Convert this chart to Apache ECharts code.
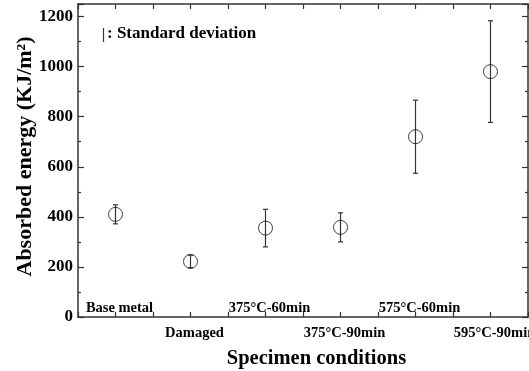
<!DOCTYPE html>
<html>
<head>
<meta charset="utf-8">
<script src="https://cdn.jsdelivr.net/npm/echarts@6/dist/echarts.min.js"></script>
<style>
    html, body { margin: 0; padding: 0; background: #fff; }
    #chart { width: 529px; height: 371px; }
</style>
</head>
<body>
<div id="chart"></div>
<script>
// specimen conditions, placed on odd x positions
const conditions = ['Base metal', 'Damaged', '375°C-60min', '375°C-90min', '575°C-60min', '595°C-90min'];
const xPos = [1, 3, 5, 7, 9, 11];
// absorbed energy (KJ/m2) and standard deviation
const energy = [410, 222, 355, 358, 720, 980];
const stdDev = [38, 25, 75, 58, 146, 203];

const font = 'Liberation Serif, Times New Roman, serif';
const axisColor = '#333';

function labelFor(v, upper) {
    let i = xPos.indexOf(v);
    if (i < 0) return '';
    // alternating labels: even index inside the plot, odd index below the axis
    if ((i % 2 === 0) !== upper) return '';
    return conditions[i];
}

const points = xPos.map((x, i) => [x, energy[i]]);
const bars = xPos.map((x, i) => [x, energy[i] - stdDev[i], energy[i] + stdDev[i]]);

const tickStyle = { color: axisColor, width: 1.2 };
const lineStyle = { color: axisColor, width: 1.5 };

const chart = echarts.init(document.getElementById('chart'));
chart.setOption({
    animation: false,
    grid: { left: 78, right: 1, top: 4, bottom: 54, outerBoundsMode: 'none', containLabel: false },
    xAxis: [{
        type: 'value',
        position: 'bottom',
        min: 0, max: 12, interval: 1,
        splitLine: { show: false },
        axisLine: { onZero: false, lineStyle: lineStyle },
        axisTick: { inside: true, length: 5, lineStyle: tickStyle },
        axisLabel: {
            inside: true, margin: 1,
            padding: [0, 0, 0, 8],
            color: '#000', fontFamily: font, fontWeight: 'bold', fontSize: 14.5,
            formatter: v => labelFor(v, true)
        }
    }, {
        type: 'value',
        position: 'bottom',
        min: 0, max: 12, interval: 1,
        splitLine: { show: false },
        axisLine: { show: false, onZero: false },
        axisTick: { show: false },
        axisLabel: {
            margin: 9,
            padding: [0, 0, 0, 8],
            color: '#000', fontFamily: font, fontWeight: 'bold', fontSize: 14.5,
            formatter: v => labelFor(v, false)
        },
        name: 'Specimen conditions',
        nameLocation: 'middle',
        nameGap: 31,
        nameTextStyle: { color: '#000', fontFamily: font, fontWeight: 'bold', fontSize: 20.5, padding: [0, 0, 0, 27] }
    }, {
        type: 'value',
        position: 'top',
        min: 0, max: 12, interval: 1,
        splitLine: { show: false },
        axisLine: { onZero: false, lineStyle: lineStyle },
        axisTick: { inside: true, length: 5, lineStyle: tickStyle },
        axisLabel: { show: false }
    }],
    yAxis: [{
        type: 'value',
        position: 'left',
        min: 0, max: 1250, interval: 200,
        splitLine: { show: false },
        axisLine: { show: true, onZero: false, lineStyle: lineStyle },
        axisTick: { inside: true, length: 6, lineStyle: tickStyle },
        minorTick: { show: true, splitNumber: 2, length: 3, lineStyle: tickStyle },
        axisLabel: {
            margin: 5,
            color: '#000', fontFamily: font, fontWeight: 'bold', fontSize: 17,
            formatter: v => (v % 200 === 0 ? String(v) : '')
        },
        name: 'Absorbed energy (KJ/m²)',
        nameLocation: 'middle',
        nameMoveOverlap: false,
        nameGap: 42,
        nameTextStyle: { color: '#000', fontFamily: font, fontWeight: 'bold', fontSize: 22, padding: [0, 0, 0, 8] }
    }, {
        type: 'value',
        position: 'right',
        min: 0, max: 1250, interval: 200,
        splitLine: { show: false },
        axisLine: { show: true, onZero: false, lineStyle: lineStyle },
        axisTick: { inside: true, length: 6, lineStyle: tickStyle },
        minorTick: { show: true, splitNumber: 2, length: 3, lineStyle: tickStyle },
        axisLabel: { show: false }
    }],
    graphic: [{
        type: 'line',
        shape: { x1: 103.5, y1: 28, x2: 103.5, y2: 42 },
        style: { stroke: '#333', lineWidth: 1.2 }
    }, {
        type: 'text',
        left: 107, top: 25,
        style: { text: ': Standard deviation', fill: '#000', font: 'bold 17px ' + font }
    }],
    series: [{
        type: 'custom',
        name: 'Standard deviation',
        xAxisIndex: 0,
        yAxisIndex: 0,
        data: bars,
        renderItem: function (params, api) {
            let x = api.value(0);
            let lo = api.coord([x, api.value(1)]);
            let hi = api.coord([x, api.value(2)]);
            let cap = 2.5;
            let st = { stroke: '#333', lineWidth: 1.2 };
            return {
                type: 'group',
                children: [
                    { type: 'line', shape: { x1: lo[0], y1: lo[1], x2: hi[0], y2: hi[1] }, style: st },
                    { type: 'line', shape: { x1: lo[0] - cap, y1: lo[1], x2: lo[0] + cap, y2: lo[1] }, style: st },
                    { type: 'line', shape: { x1: hi[0] - cap, y1: hi[1], x2: hi[0] + cap, y2: hi[1] }, style: st }
                ]
            };
        }
    }, {
        type: 'scatter',
        xAxisIndex: 0,
        yAxisIndex: 0,
        symbol: 'circle',
        symbolSize: 14,
        itemStyle: { color: 'rgba(0,0,0,0)', borderColor: '#111', borderWidth: 1 },
        data: points
    }]
});
</script>
</body>
</html>
